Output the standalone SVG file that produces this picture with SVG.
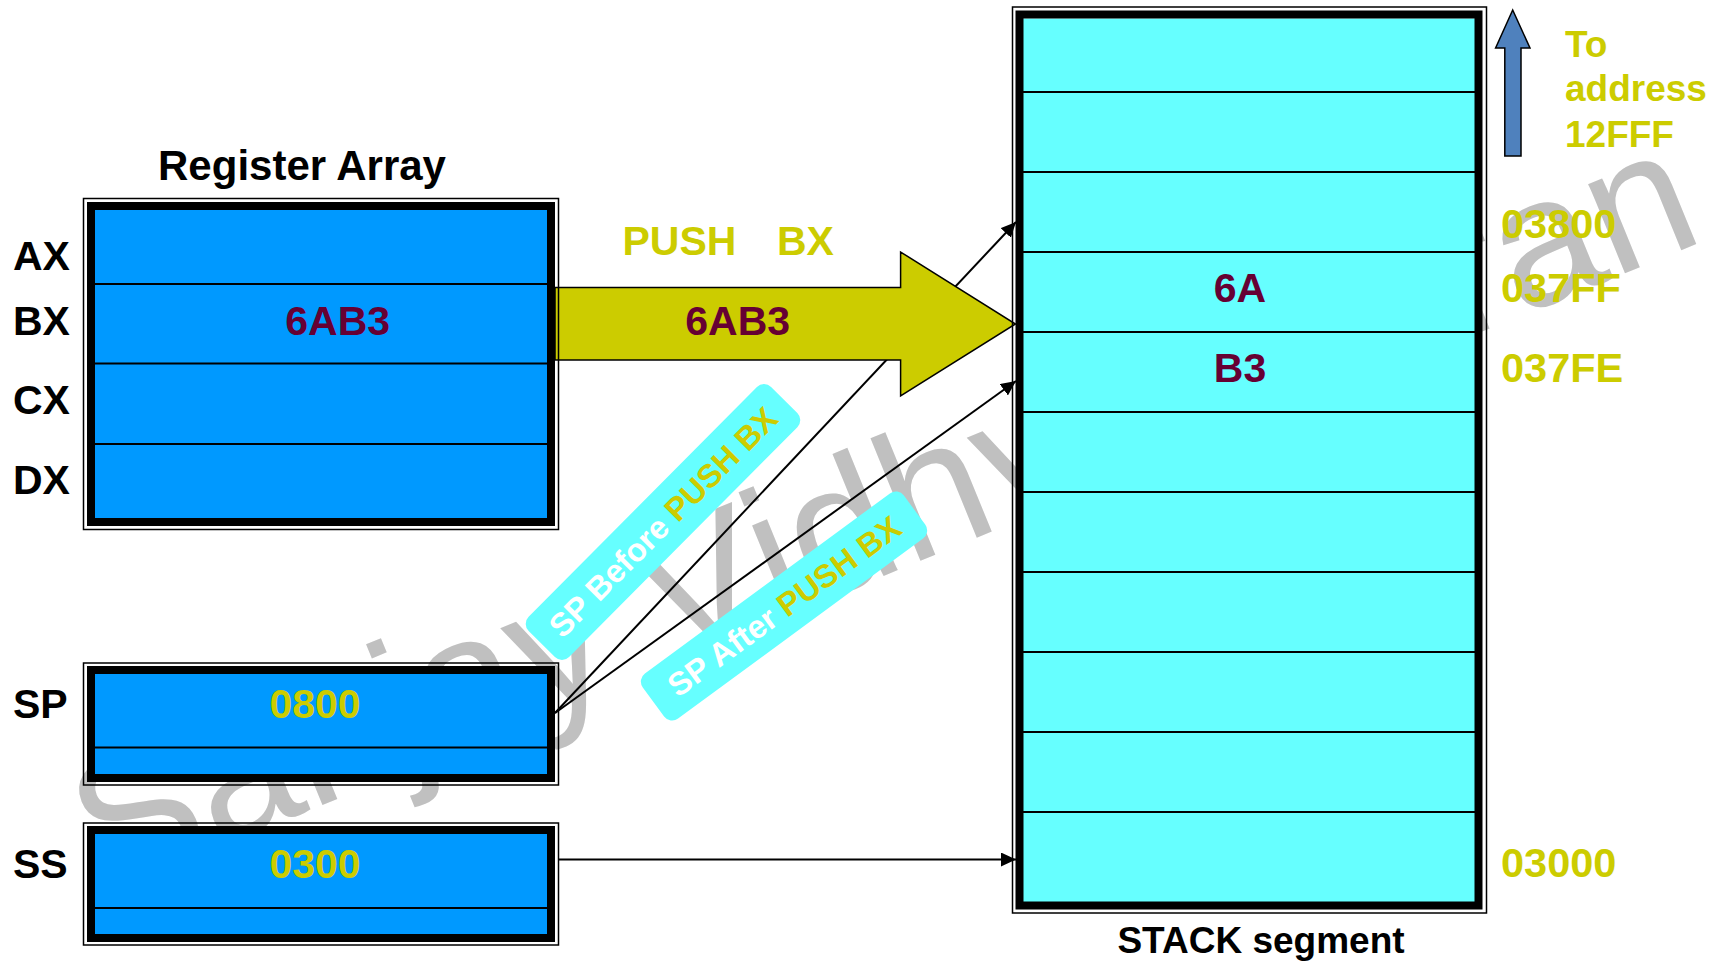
<svg xmlns="http://www.w3.org/2000/svg" width="1723" height="963" viewBox="0 0 1723 963">
<defs>
<style>
.t{font-family:"Liberation Sans",Arial,sans-serif;font-weight:bold}
.lbl{font-size:41px;fill:#000}
.yel{fill:#CCCC00}
.mar{fill:#660033}
.thin{fill:none;stroke:#000;stroke-width:1.5}
.thick{fill:none;stroke:#000;stroke-width:8}
.div{stroke:#000;stroke-width:2}
.conn{stroke:#000;stroke-width:2;fill:none}
</style>
<marker id="ah" markerUnits="userSpaceOnUse" markerWidth="16" markerHeight="14" refX="15" refY="7" orient="auto">
<path d="M0,0 L15,7 L0,14 z" fill="#000"/>
</marker>
</defs>
<rect width="1723" height="963" fill="#fff"/>
<text transform="translate(104,894) rotate(-22.2)" font-family="Liberation Sans,Arial,sans-serif" font-size="182.5" fill="#C0C0C0">Sanjay Vidhyadharan</text>

<g id="connectors">
<line class="conn" x1="555" y1="713" x2="1016" y2="222" marker-end="url(#ah)"/>
<line class="conn" x1="555" y1="713" x2="1016" y2="381" marker-end="url(#ah)"/>
<line class="conn" x1="558" y1="859.5" x2="1016" y2="859.5" marker-end="url(#ah)"/>
</g>

<g id="push-arrow">
<polygon points="555,287.5 900.6,287.5 900.6,252 1015.5,324 900.6,396 900.6,360 555,360" fill="#CCCC00" stroke="#000" stroke-width="1.5"/>
<text class="t mar" x="737.7" y="335" font-size="41" text-anchor="middle">6AB3</text>
</g>
<text class="t yel" x="622.5" y="255" font-size="41">PUSH <tspan x="777">BX</tspan></text>

<g id="register-array">
<text class="t" x="302" y="180" font-size="42" text-anchor="middle">Register Array</text>
<rect class="thin" x="83.5" y="198.5" width="475" height="331"/>
<rect x="95" y="210" width="452" height="308" fill="#0099FF"/>
<rect class="thick" x="91" y="206" width="460" height="316"/>
<line class="div" x1="95" y1="284" x2="547" y2="284"/>
<line class="div" x1="95" y1="363.5" x2="547" y2="363.5"/>
<line class="div" x1="95" y1="444" x2="547" y2="444"/>
<text class="t lbl" x="13" y="270">AX</text>
<text class="t lbl" x="13" y="335">BX</text>
<text class="t lbl" x="13" y="414">CX</text>
<text class="t lbl" x="13" y="494">DX</text>
<text class="t mar" x="337.7" y="335" font-size="41" text-anchor="middle">6AB3</text>
</g>

<g id="sp-register">
<rect class="thin" x="83.5" y="663" width="475" height="122"/>
<rect x="95" y="674" width="452" height="100" fill="#0099FF"/>
<rect class="thick" x="91" y="670" width="460" height="108"/>
<line class="div" x1="95" y1="747.5" x2="547" y2="747.5"/>
<text class="t lbl" x="13" y="718">SP</text>
<text class="t yel" x="315" y="718" font-size="41" text-anchor="middle">0800</text>
</g>

<g id="ss-register">
<rect class="thin" x="83.5" y="823" width="475" height="122"/>
<rect x="95" y="834" width="452" height="100" fill="#0099FF"/>
<rect class="thick" x="91" y="830" width="460" height="108"/>
<line class="div" x1="95" y1="908" x2="547" y2="908"/>
<text class="t lbl" x="13" y="878">SS</text>
<text class="t yel" x="315" y="878" font-size="41" text-anchor="middle">0300</text>
</g>

<g id="label-before">
<g transform="translate(663,522) rotate(-45.2)">
<rect x="-172" y="-28.5" width="344" height="57" rx="10" fill="#66FFFF"/>
<text class="t" x="0" y="11.5" font-size="32.5" text-anchor="middle" fill="#fff">SP Before <tspan class="yel">PUSH BX</tspan></text>
</g>
</g>

<g id="label-after">
<g transform="translate(784,606) rotate(-36.3)">
<rect x="-162" y="-28" width="324" height="56" rx="10" fill="#66FFFF"/>
<text class="t" x="0" y="11.5" font-size="32.5" text-anchor="middle" fill="#fff">SP After <tspan class="yel">PUSH BX</tspan></text>
</g>
</g>

<g id="stack-segment">
<rect class="thin" x="1012.5" y="7" width="474" height="906"/>
<rect x="1023" y="18.5" width="452" height="883.5" fill="#66FFFF"/>
<rect class="thick" x="1019.5" y="14.5" width="459" height="891"/>
<line class="div" x1="1023" y1="92" x2="1475" y2="92"/>
<line class="div" x1="1023" y1="172" x2="1475" y2="172"/>
<line class="div" x1="1023" y1="252" x2="1475" y2="252"/>
<line class="div" x1="1023" y1="332" x2="1475" y2="332"/>
<line class="div" x1="1023" y1="412" x2="1475" y2="412"/>
<line class="div" x1="1023" y1="492" x2="1475" y2="492"/>
<line class="div" x1="1023" y1="572" x2="1475" y2="572"/>
<line class="div" x1="1023" y1="652" x2="1475" y2="652"/>
<line class="div" x1="1023" y1="732" x2="1475" y2="732"/>
<line class="div" x1="1023" y1="812" x2="1475" y2="812"/>
<text class="t mar" x="1240" y="302" font-size="41" text-anchor="middle">6A</text>
<text class="t mar" x="1240" y="382" font-size="41" text-anchor="middle">B3</text>
<text class="t" x="1261" y="953" font-size="37" text-anchor="middle">STACK segment</text>
</g>

<g id="addresses">
<text class="t yel" x="1501" y="238" font-size="41.5">03800</text>
<text class="t yel" x="1501" y="302" font-size="41.5">037FF</text>
<text class="t yel" x="1501" y="382" font-size="41.5">037FE</text>
<text class="t yel" x="1501" y="877" font-size="41.5">03000</text>
</g>

<g id="direction">
<polygon points="1512.7,10 1530,48 1521,48 1521,156 1504.8,156 1504.8,48 1495.6,48" fill="#4F81BD" stroke="#000" stroke-width="1.5"/>
<text class="t yel" font-size="37"><tspan x="1565" y="57">To</tspan><tspan x="1565" y="101">address</tspan><tspan x="1565" y="147">12FFF</tspan></text>
</g>
</svg>
